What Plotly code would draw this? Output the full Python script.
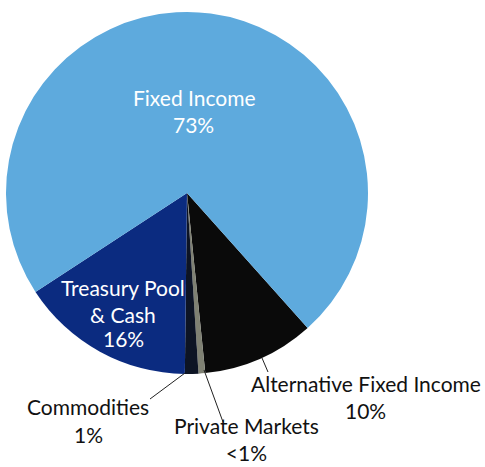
import plotly.graph_objects as go

W, H = 485, 467

categories = ["Alternative Fixed Income", "Private Markets", "Commodities",
              "Treasury Pool & Cash", "Fixed Income"]
values = [10, 0.6, 1.2, 15.6, 72.6]
pct_labels = ["10%", "<1%", "1%", "16%", "73%"]
colors = ["#0a0a0a", "#7f8173", "#0d1424", "#0b2b80", "#5eaadd"]

cx, cy, r = 187, 193, 181

def px(x):
    return x / W

def py(y):
    return 1 - y / H

fig = go.Figure()
fig.add_trace(go.Pie(
    labels=categories, values=values, sort=False, direction="clockwise",
    rotation=138.2, textinfo="none", hoverinfo="label+percent",
    marker=dict(colors=colors, line=dict(width=0)),
    domain=dict(x=[px(cx - r), px(cx + r)], y=[py(cy + r), py(cy - r)]),
    showlegend=False,
))

font = "Lato, 'Open Sans', sans-serif"
ann = [
    ("Fixed Income", 194, 97, "white", "middle"),
    (pct_labels[4], 193, 124, "white", "middle"),
    ("Treasury Pool<br>&amp; Cash", 123, 301, "white", "middle"),
    (pct_labels[3], 123, 338, "white", "middle"),
    ("Alternative Fixed Income", 366, 383, "#111111", "middle"),
    (pct_labels[0], 365, 410, "#111111", "middle"),
    ("Commodities", 88, 406, "#111111", "middle"),
    (pct_labels[2], 88, 434, "#111111", "middle"),
    ("Private Markets<br>&lt;1%", 246, 467, "#111111", "bottom"),
]
for t, x, y, c, ya in ann:
    fig.add_annotation(text=t, x=px(x), y=py(y), xref="paper", yref="paper",
                       showarrow=False, font=dict(family=font, size=21, color=c),
                       xanchor="center", yanchor=ya)

lines = [((262, 358), (268, 372)), ((185, 373), (150, 399)), ((204, 370), (223, 422))]
for (x0, y0), (x1, y1) in lines:
    fig.add_shape(type="line", xref="paper", yref="paper",
                  x0=px(x0), y0=py(y0), x1=px(x1), y1=py(y1),
                  line=dict(color="#222", width=1))

fig.update_layout(width=W, height=H, margin=dict(l=0, r=0, t=0, b=0),
                  paper_bgcolor="white", plot_bgcolor="white")
fig.write_html("out.html", config={"displayModeBar": False},
               post_script="document.body.style.margin='0';document.body.style.overflow='hidden';")
